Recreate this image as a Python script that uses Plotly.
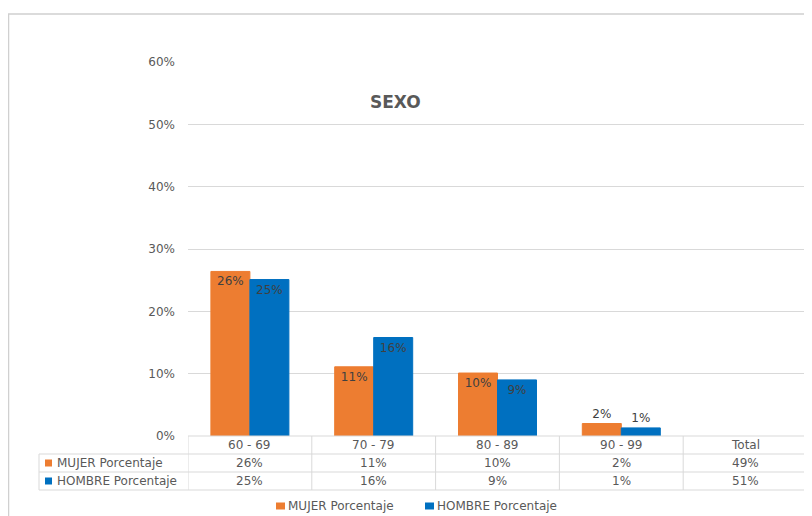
import plotly.graph_objects as go

W, H = 812, 516
OFF = 8  # page body margin

categories = ["60 - 69", "70 - 79", "80 - 89", "90 - 99", "Total"]
mujer = [0.264, 0.111, 0.101, 0.020, 0.49]
hombre = [0.251, 0.158, 0.090, 0.013, 0.51]
series_names = ["MUJER Porcentaje", "HOMBRE Porcentaje"]
colors = ["#ED7D31", "#0070C0"]
label_pos = ["inside", "inside", "inside", "outside", "inside"]
title_text = "SEXO"

FONT = "DejaVu Sans"
GREY = "#595959"
LINE = "#d9d9d9"

def px(x):
    return (x - OFF) / W

def py(y):
    return 1 - (y - OFF) / H

# bars: Total column is not drawn in the chart
bar_cats = categories[:-1]
fig = go.Figure()
for name, vals, col in [(series_names[0], mujer, colors[0]), (series_names[1], hombre, colors[1])]:
    fig.add_trace(go.Bar(
        x=bar_cats, y=vals[:-1], name=name,
        marker=dict(color=col, line=dict(color=col, width=1)),
        texttemplate="%{y:.0%}", textposition=label_pos[:-1],
        insidetextanchor="end",
        textfont=dict(family=FONT, size=12, color="#404040"),
        outsidetextfont=dict(family=FONT, size=12, color="#404040"),
        cliponaxis=False, showlegend=False,
    ))

x_left, x_right = 188, 807
y_zero, y_top = 436, 62
row_lines = [454, 472, 490]
row_centers = [445, 463, 481]

shapes = []
# outer frame
shapes.append(dict(type="rect", xref="paper", yref="paper", x0=px(8.5), x1=px(W + 20), y0=py(H + 20), y1=py(14),
                   line=dict(color="#d0d0d0", width=1.5), fillcolor="rgba(0,0,0,0)", layer="below"))
# table horizontal lines
shapes.append(dict(type="line", xref="paper", yref="paper", x0=px(x_left), x1=px(x_right), y0=py(y_zero), y1=py(y_zero),
                   line=dict(color=LINE, width=1)))
for yl in row_lines:
    shapes.append(dict(type="line", xref="paper", yref="paper", x0=px(39), x1=px(x_right), y0=py(yl), y1=py(yl),
                       line=dict(color=LINE, width=1)))
# table vertical lines
shapes.append(dict(type="line", xref="paper", yref="paper", x0=px(39), x1=px(39), y0=py(row_lines[0]), y1=py(row_lines[-1]),
                   line=dict(color=LINE, width=1)))
for i in range(len(categories) + 1):
    shapes.append(dict(type="line", xref="x", yref="paper", x0=i - 0.5, x1=i - 0.5, y0=py(y_zero), y1=py(row_lines[-1]),
                       line=dict(color=LINE, width=1)))

annotations = []
annotations.append(dict(text="<b>" + title_text + "</b>", xref="paper", yref="paper", x=px(395), y=py(102),
                        xanchor="center", yanchor="middle",
                        showarrow=False, font=dict(family=FONT, size=17, color=GREY)))
for i, c in enumerate(categories):
    annotations.append(dict(text=c, xref="x", yref="paper", x=i, y=py(row_centers[0]), showarrow=False,
                            xanchor="center", yanchor="middle",
                            font=dict(family=FONT, size=12, color=GREY)))
    for r, vals in enumerate([mujer, hombre]):
        annotations.append(dict(text=f"{vals[i]:.0%}", xref="x", yref="paper", x=i, y=py(row_centers[r + 1]),
                                xanchor="center", yanchor="middle",
                                showarrow=False, font=dict(family=FONT, size=12, color=GREY)))
# row labels with keys
for r in range(2):
    yc = row_centers[r + 1]
    shapes.append(dict(type="rect", xref="paper", yref="paper", x0=px(45), x1=px(52), y0=py(yc + 3.5), y1=py(yc - 3.5),
                       line=dict(width=0), fillcolor=colors[r]))
    annotations.append(dict(text=series_names[r], xref="paper", yref="paper", x=px(55), y=py(yc),
                            xanchor="left", yanchor="middle",
                            showarrow=False, font=dict(family=FONT, size=12, color=GREY)))
# bottom legend
leg_y = 506
for r, xs in enumerate([276, 425]):
    shapes.append(dict(type="rect", xref="paper", yref="paper", x0=px(xs), x1=px(xs + 9), y0=py(leg_y + 3.5), y1=py(leg_y - 3.5),
                       line=dict(width=0), fillcolor=colors[r]))
    annotations.append(dict(text=series_names[r], xref="paper", yref="paper", x=px(xs + 10), y=py(leg_y),
                            xanchor="left", yanchor="middle",
                            showarrow=False, font=dict(family=FONT, size=12, color=GREY)))

fig.update_layout(
    width=W, height=H,
    margin=dict(l=0, r=0, t=0, b=0, pad=0),
    paper_bgcolor="white", plot_bgcolor="white",
    barmode="group", bargap=0.37, bargroupgap=0,
    xaxis=dict(domain=[px(x_left), px(x_right)], categoryorder="array", categoryarray=categories,
               range=[-0.5, len(categories) - 0.5], showticklabels=False, showgrid=False,
               zeroline=False, showline=False, ticks="", automargin=False),
    yaxis=dict(domain=[py(y_zero), py(y_top)], range=[0, 0.6], dtick=0.1, tickformat=".0%",
               showgrid=True, gridcolor=LINE, gridwidth=1, zeroline=False, showline=False,
               ticks="", ticklabelstandoff=12, automargin=False,
               tickfont=dict(family=FONT, size=12, color=GREY)),
    shapes=shapes, annotations=annotations,
    font=dict(family=FONT, color=GREY),
)

fig.write_html("out.html")
